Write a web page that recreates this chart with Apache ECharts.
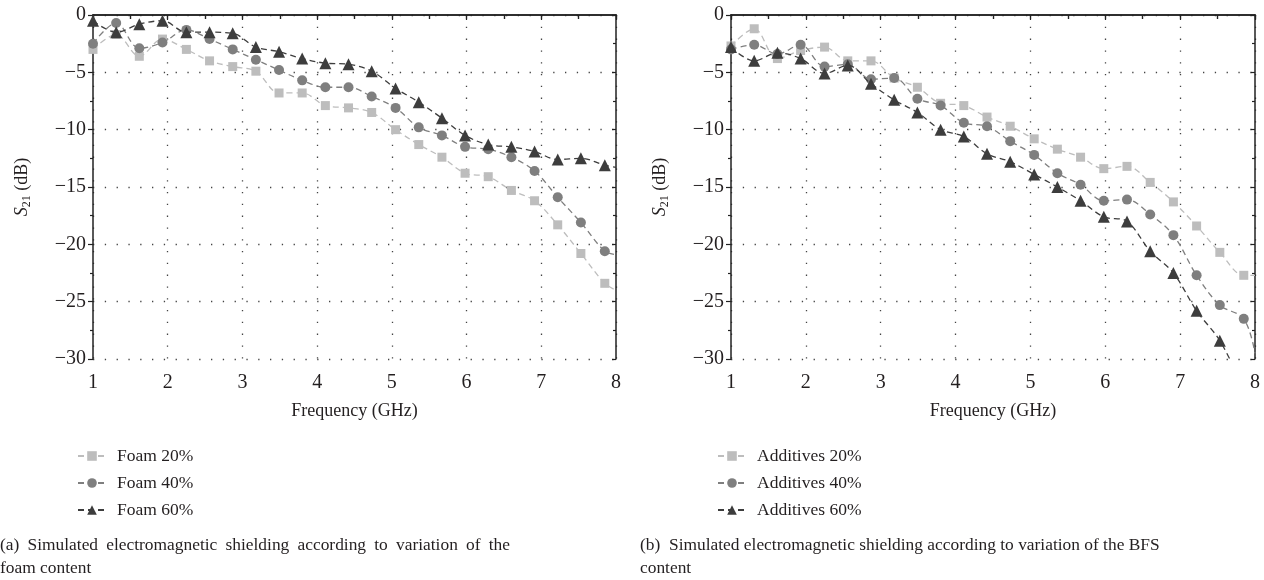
<!DOCTYPE html>
<html><head><meta charset="utf-8">
<script src="https://cdn.jsdelivr.net/npm/echarts@6/dist/echarts.min.js"></script>
<style>html,body{margin:0;padding:0;background:#fff}#c{width:1264px;height:580px}</style>
</head><body><div id="c"></div>
<script>
// ---- data ----
const freqs = [1.00,1.31,1.62,1.93,2.25,2.56,2.87,3.18,3.49,3.80,4.11,4.42,4.73,5.05,5.36,5.67,5.98,6.29,6.60,6.91,7.22,7.53,7.85];
const endFreq = 8;

const foamNames = ['Foam 20%','Foam 40%','Foam 60%'];
const foam20 = [-3.0,-1.7,-3.6,-2.1,-3.0,-4.0,-4.5,-4.9,-6.8,-6.8,-7.9,-8.1,-8.5,-10.0,-11.3,-12.4,-13.8,-14.1,-15.3,-16.2,-18.3,-20.8,-23.4];
const foam40 = [-2.5,-0.7,-2.9,-2.4,-1.3,-2.1,-3.0,-3.9,-4.8,-5.7,-6.3,-6.3,-7.1,-8.1,-9.8,-10.5,-11.5,-11.7,-12.4,-13.6,-15.9,-18.1,-20.6];
const foam60 = [-0.5,-1.5,-0.8,-0.5,-1.5,-1.5,-1.6,-2.8,-3.2,-3.8,-4.2,-4.3,-4.9,-6.4,-7.6,-9.0,-10.5,-11.3,-11.5,-11.9,-12.6,-12.5,-13.1];
const foamEnd = [-24.0,-20.9,-13.3];

const addNames = ['Additives 20%','Additives 40%','Additives 60%'];
const add20 = [-2.7,-1.2,-3.8,-3.1,-2.8,-4.0,-4.0,-5.5,-6.3,-7.7,-7.9,-8.9,-9.7,-10.8,-11.7,-12.4,-13.4,-13.2,-14.6,-16.3,-18.4,-20.7,-22.7];
const add40 = [-3.0,-2.6,-3.4,-2.6,-4.5,-4.3,-5.6,-5.5,-7.3,-7.9,-9.4,-9.7,-11.0,-12.2,-13.8,-14.8,-16.2,-16.1,-17.4,-19.2,-22.7,-25.3,-26.5];
const add60 = [-2.8,-4.0,-3.3,-3.8,-5.1,-4.4,-6.0,-7.4,-8.5,-10.0,-10.6,-12.1,-12.8,-13.9,-15.0,-16.2,-17.6,-18.0,-20.6,-22.5,-25.8,-28.4,-32.5];
const addEnd = [-22.7,-29.5,-34.0];

const xName = 'Frequency (GHz)';
const captionA = ['(a)  Simulated electromagnetic shielding according to variation of the', 'foam content'];
const captionB = ['(b)  Simulated electromagnetic shielding according to variation of the BFS', 'content'];

// ---- styles ----
const FONT = '"Liberation Serif", "Times New Roman", serif';
const TXT = '#231f20';
const colors = ['#bdbdbd', '#7f7f7f', '#3d3d3d'];
const symbols = ['rect', 'circle', 'triangle'];
const sizes = [9, 10, 12];
const grids = [
  {left: 93, right: 648, top: 15, bottom: 221},
  {left: 731, right: 9, top: 15, bottom: 221}
];

function minus(v){ return String(v).replace('-', '\u2212'); }

const xAxes = [], yAxes = [];
grids.forEach((g, gi) => {
  xAxes.push({
    type: 'value', gridIndex: gi, min: 1, max: 8, interval: 1, position: 'bottom',
    axisLine: {lineStyle: {color: '#222', width: 1.5}},
    axisTick: {inside: false, length: 5, lineStyle: {color: '#222', width: 1.2}},
    minorTick: {show: true, splitNumber: 2, length: 4, lineStyle: {color: '#222', width: 1.2}},
    splitLine: {show: true, lineStyle: {color: '#444', width: 1.3, type: [1.3, 10.5]}},
    axisLabel: {fontFamily: FONT, fontSize: 20, color: TXT, margin: 14},
    name: xName, nameLocation: 'middle', nameGap: 43,
    nameTextStyle: {fontFamily: FONT, fontSize: 18, color: TXT}
  });
  xAxes.push({
    type: 'value', gridIndex: gi, min: 1, max: 8, interval: 1, position: 'top',
    axisLine: {lineStyle: {color: '#222', width: 1.5}},
    axisTick: {inside: true, length: 4, lineStyle: {color: '#222', width: 1.2}},
    minorTick: {show: true, splitNumber: 2, length: 4, lineStyle: {color: '#222', width: 1.2}},
    splitLine: {show: false}, axisLabel: {show: false}
  });
  yAxes.push({
    type: 'value', gridIndex: gi, min: -30, max: 0, interval: 5, position: 'left',
    axisLine: {lineStyle: {color: '#222', width: 1.5}},
    axisTick: {inside: false, length: 5, lineStyle: {color: '#222', width: 1.2}},
    minorTick: {show: true, splitNumber: 2, length: 3, lineStyle: {color: '#222', width: 1.2}},
    splitLine: {show: true, lineStyle: {color: '#444', width: 1.3, type: [1.3, 10.5]}},
    axisLabel: {fontFamily: FONT, fontSize: 20, color: TXT, margin: 7, formatter: minus},
    name: '{s|S}{sub|21}{n| (dB)}', nameLocation: 'middle', nameGap: 60, nameRotate: 90,
    nameTextStyle: {
      fontFamily: FONT, fontSize: 18, color: TXT,
      rich: {
        s: {fontFamily: FONT, fontSize: 18, fontStyle: 'italic', color: TXT, lineHeight: 22, verticalAlign: 'middle'},
        sub: {fontFamily: FONT, fontSize: 12, color: TXT, lineHeight: 12, verticalAlign: 'bottom'},
        n: {fontFamily: FONT, fontSize: 18, color: TXT, lineHeight: 22, verticalAlign: 'middle'}
      }
    }
  });
  yAxes.push({
    type: 'value', gridIndex: gi, min: -30, max: 0, interval: 5, position: 'right',
    axisLine: {lineStyle: {color: '#222', width: 1.5}},
    axisTick: {inside: true, length: 4, lineStyle: {color: '#222', width: 1.2}},
    minorTick: {show: true, splitNumber: 2, length: 3, lineStyle: {color: '#222', width: 1.2}},
    splitLine: {show: false}, axisLabel: {show: false}
  });
});

function mk(name, vals, endVal, k, gi) {
  const data = freqs.map((f, i) => [f, vals[i]]);
  data.push({value: [endFreq, endVal], symbol: 'none'});
  return {
    type: 'line', name, xAxisIndex: gi * 2, yAxisIndex: gi * 2, data,
    smooth: 0.35, symbol: symbols[k], symbolSize: sizes[k], showSymbol: true, clip: true,
    itemStyle: {color: colors[k]},
    lineStyle: {color: colors[k], width: 1.3, type: [6, 4]},
    z: 2 + k, animation: false
  };
}

const series = [
  mk(foamNames[0], foam20, foamEnd[0], 0, 0),
  mk(foamNames[1], foam40, foamEnd[1], 1, 0),
  mk(foamNames[2], foam60, foamEnd[2], 2, 0),
  mk(addNames[0], add20, addEnd[0], 0, 1),
  mk(addNames[1], add40, addEnd[1], 1, 1),
  mk(addNames[2], add60, addEnd[2], 2, 1)
];

const legendCommon = {
  orient: 'vertical', top: 446, padding: 0, itemWidth: 28, itemHeight: 12, itemGap: 7,
  textStyle: {fontFamily: FONT, fontSize: 17.5, color: TXT, lineHeight: 20, padding: [0, 0, 0, 6]}
};

// caption layout (first line of (a) is justified)
const CAP_FONT_SIZE = 17.4;
const capFont = CAP_FONT_SIZE + 'px ' + FONT;
const measureCtx = document.createElement('canvas').getContext('2d');
measureCtx.font = capFont;
function textItem(x, y, t) {
  return {type: 'text', x: x, y: y, style: {text: t, font: capFont, fill: TXT, textVerticalAlign: 'middle'}};
}
function justified(x, y, width, line) {
  const words = line.split(/\s+/);
  const ws = words.map(w => measureCtx.measureText(w).width);
  const total = ws.reduce((a, b) => a + b, 0);
  const gap = (width - total) / (words.length - 1);
  const out = [];
  let cx = x;
  words.forEach((w, i) => { out.push(textItem(cx, y, w)); cx += ws[i] + gap; });
  return out;
}
const capY = [545, 568];
const graphics = [
  ...justified(0, capY[0], 510, captionA[0]),
  textItem(0, capY[1], captionA[1]),
  textItem(640, capY[0], captionB[0]),
  textItem(640, capY[1], captionB[1])
];

const chart = echarts.init(document.getElementById('c'));
chart.setOption({
  backgroundColor: '#fff',
  animation: false,
  grid: grids,
  xAxis: xAxes,
  yAxis: yAxes,
  legend: [
    Object.assign({left: 77, data: foamNames}, legendCommon),
    Object.assign({left: 717, data: addNames}, legendCommon)
  ],
  graphic: graphics,
  series
});
</script></body></html>
